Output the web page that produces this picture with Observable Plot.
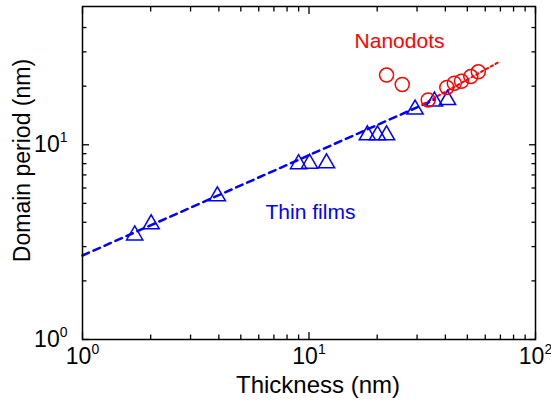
<!DOCTYPE html>
<html><head><meta charset="utf-8">
<script src="https://cdn.jsdelivr.net/npm/d3@7"></script>
<script src="https://cdn.jsdelivr.net/npm/@observablehq/plot@0.6"></script>
<style>html,body{margin:0;padding:0;background:#fff}</style>
</head><body><div id="chart"></div>
<script>
// Thin films (triangles)
const thinThickness = [1.70, 2.01, 3.94, 8.99, 10.05, 11.95, 18.1, 20.06, 22.0, 29.4, 35.8, 40.9];
const thinPeriod    = [3.43, 3.91, 5.45, 7.96, 8.01, 8.05, 11.2, 11.2, 11.2, 15.2, 16.7, 17.0];
// Nanodots (circles)
const dotThickness = [22.0, 25.8, 33.6, 40.6, 43.8, 47.1, 51.8, 55.9];
const dotPeriod    = [22.8, 20.4, 17.0, 19.7, 20.7, 21.2, 22.4, 23.7];
// Fit lines (endpoints)
const thinFitX = [1, 36];
const thinFitY = [2.7, 17.1];
const dotFitX = [32, 69.3];
const dotFitY = [16.2, 26.7];
// Ticks
const xMajor = [1, 10, 100];
const xMinor = [2, 3, 4, 5, 6, 7, 8, 9, 20, 30, 40, 50, 60, 70, 80, 90];
const yMajor = [1, 10];
const yMinor = [2, 3, 4, 5, 6, 7, 8, 9, 20, 30, 40];
// Labels
const labelText = ["Nanodots", "Thin films"];
const labelX = [25.1, 10.15];
const labelY = [34.2, 4.51];
const labelColor = ["#ff0000", "#0000ff"];
const xTitle = "Thickness (nm)";
const yTitle = "Domain period (nm)";

const thin = thinThickness.map((x, i) => ({x, y: thinPeriod[i]}));
const dots = dotThickness.map((x, i) => ({x, y: dotPeriod[i]}));
const thinFit = thinFitX.map((x, i) => ({x, y: thinFitY[i]}));
const dotFit = dotFitX.map((x, i) => ({x, y: dotFitY[i]}));
const labels = labelText.map((t, i) => ({t, x: labelX[i], y: labelY[i], c: labelColor[i]}));
const fmt = d => "10^" + Math.round(Math.log10(d));

const plot = Plot.plot({
  width: 551, height: 412,
  marginLeft: 82, marginRight: 16, marginTop: 6, marginBottom: 73,
  style: {fontFamily: "'Liberation Sans', Arial, sans-serif", background: "white", color: "black"},
  x: {type: "log", domain: [1, 100]},
  y: {type: "log", domain: [1, 51.3]},
  marks: [
    Plot.line(thinFit, {x: "x", y: "y", stroke: "#0000ff", strokeWidth: 2.5, strokeDasharray: "7,5"}),
    Plot.line(dotFit, {x: "x", y: "y", stroke: "#ff0000", strokeWidth: 2, strokeDasharray: "2.5,3"}),
    Plot.dot(thin, {x: "x", y: "y", symbol: "triangle", r: 6, stroke: "#0000ff", strokeWidth: 1.5, fill: "none"}),
    Plot.dot(dots, {x: "x", y: "y", symbol: "circle", r: 7, stroke: "#ff0000", strokeWidth: 1.5, fill: "none"}),
    Plot.text(labels, {x: "x", y: "y", text: "t", fill: "c", fontSize: 21, lineAnchor: "middle"}),
    // inward ticks on all four sides
    Plot.axisX({anchor: "bottom", ticks: xMajor, tickSize: -7, tickFormat: () => "", label: null, strokeWidth: 1.3}),
    Plot.axisX({anchor: "bottom", ticks: xMinor, tickSize: -4.5, tickFormat: () => "", label: null, strokeWidth: 1.3}),
    Plot.axisX({anchor: "top", ticks: xMajor, tickSize: -7, tickFormat: () => "", label: null, strokeWidth: 1.3}),
    Plot.axisX({anchor: "top", ticks: xMinor, tickSize: -4.5, tickFormat: () => "", label: null, strokeWidth: 1.3}),
    Plot.axisY({anchor: "left", ticks: yMajor, tickSize: -7, tickFormat: () => "", label: null, strokeWidth: 1.3}),
    Plot.axisY({anchor: "left", ticks: yMinor, tickSize: -4.5, tickFormat: () => "", label: null, strokeWidth: 1.3}),
    Plot.axisY({anchor: "right", ticks: yMajor, tickSize: -7, tickFormat: () => "", label: null, strokeWidth: 1.3}),
    Plot.axisY({anchor: "right", ticks: yMinor, tickSize: -4.5, tickFormat: () => "", label: null, strokeWidth: 1.3}),
    // tick labels
    Plot.axisX({anchor: "bottom", ticks: xMajor, tickSize: 0, tickPadding: 8, tickFormat: fmt, fontSize: 23, label: null}),
    Plot.axisY({anchor: "left", ticks: yMajor, tickSize: 0, tickPadding: 15, tickFormat: fmt, fontSize: 23, label: null}),
    // axis titles
    Plot.text([xTitle], {frameAnchor: "bottom", text: d => d, fontSize: 24, textAnchor: "middle", lineAnchor: "middle", dx: 9, dy: 45.5}),
    Plot.text([yTitle], {frameAnchor: "left", text: d => d, fontSize: 23, textAnchor: "middle", lineAnchor: "middle", rotate: -90, dx: -59.5, dy: -12.5}),
    Plot.frame({stroke: "black", strokeWidth: 1.5})
  ]
});

plot.querySelectorAll('g[aria-label$="tick label"] text').forEach(t => {
  const m = t.textContent.match(/^10\^(\d)$/);
  if (!m) return;
  t.textContent = "10";
  const sup = document.createElementNS("http://www.w3.org/2000/svg", "tspan");
  sup.setAttribute("font-size", 14);
  sup.setAttribute("dy", -10);
  sup.textContent = m[1];
  t.appendChild(sup);
});

document.getElementById("chart").appendChild(plot);
</script>
</body></html>
